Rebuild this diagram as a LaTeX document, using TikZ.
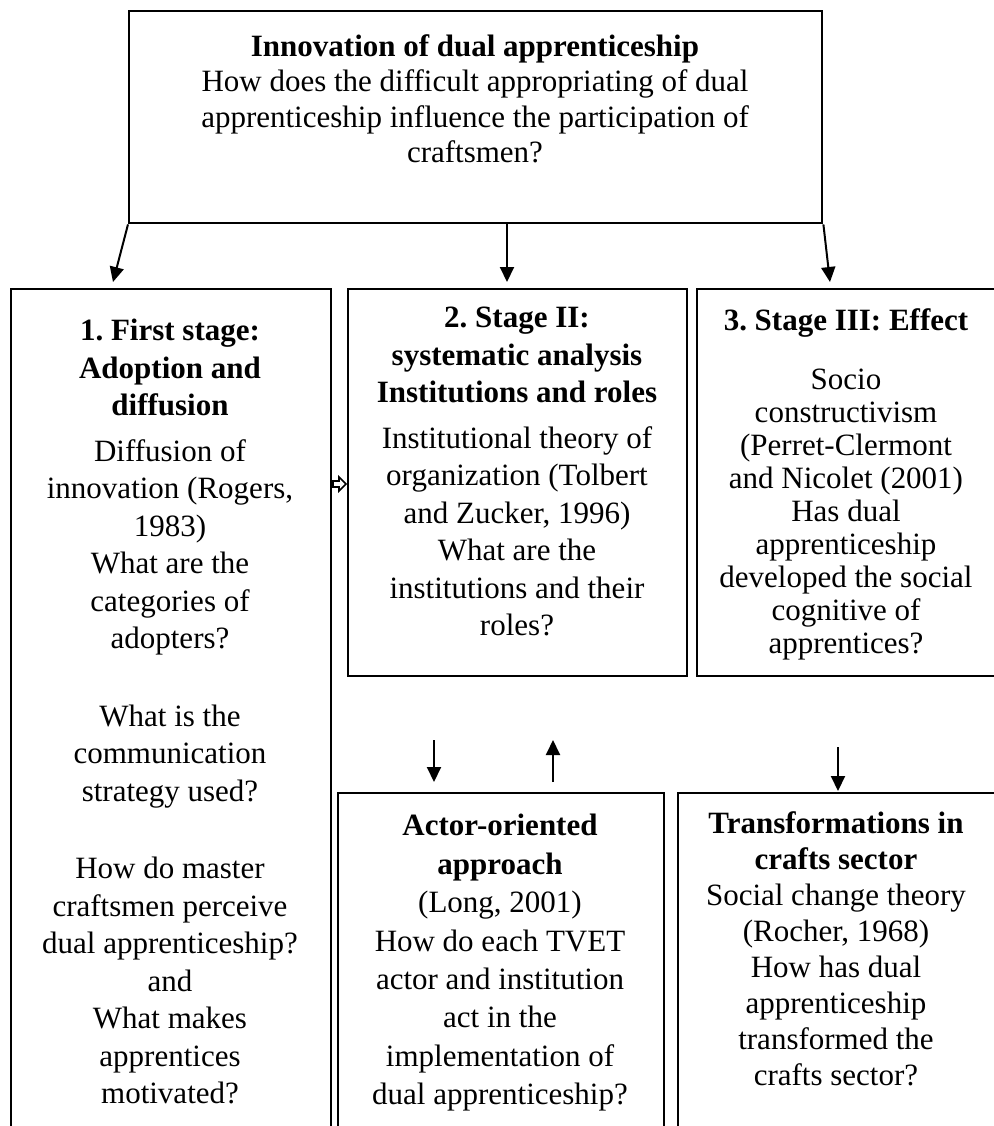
\documentclass[tikz,border=0pt]{standalone}
\usepackage{fontspec}
\setmainfont{Liberation Serif}
\usetikzlibrary{arrows.meta}
\frenchspacing
\begin{document}
\begin{tikzpicture}[x=0.5pt,y=-0.5pt,
  box/.style={draw, line width=1.2pt, inner sep=0pt, anchor=north west},
  txt/.style={align=center, font=\fontsize{15.5pt}{18.75pt}\selectfont, inner sep=0pt, anchor=north},
  arr/.style={line width=1pt, -{Triangle[width=7pt,length=7.5pt]}}]
\useasboundingbox (0,0) rectangle (994,1126);
\clip (0,0) rectangle (994,1126);

% frames
\node[box, minimum width=346.5pt, minimum height=106pt] (top) at (128,10) {};
\node[box, minimum width=160pt, minimum height=430pt] (s1) at (10,288) {};
\node[box, minimum width=169.5pt, minimum height=193.5pt] (s2) at (347,288) {};
\node[box, minimum width=152pt, minimum height=193.5pt] (s3) at (696,288) {};
\node[box, minimum width=163pt, minimum height=180pt] (actor) at (337,792) {};
\node[box, minimum width=162pt, minimum height=180pt] (trans) at (677,792) {};

% texts
\node[txt, font=\fontsize{15.5pt}{17.75pt}\selectfont] (topT) at (475,34) {\textbf{Innovation of dual apprenticeship}\\
  How does the difficult appropriating of dual\\
  apprenticeship influence the participation of\\
  craftsmen?};
\node[txt] (s1T) at (170,319) {\textbf{1. First stage:}\\ \textbf{Adoption and}\\ \textbf{diffusion}\\[4pt]
  Diffusion of\\ innovation (Rogers,\\ 1983)\\ What are the\\ categories of\\ adopters?\\[20pt]
  What is the\\ communication\\ strategy used?\\[20pt]
  How do master\\ craftsmen perceive\\ dual apprenticeship?\\ and\\ What makes\\ apprentices\\ motivated?};
\node[txt] (s2T) at (517,307) {\textbf{2. Stage II:}\\ \textbf{systematic analysis}\\ \textbf{Institutions and roles}\\[4pt]
  Institutional theory of\\ organization (Tolbert\\ and Zucker, 1996)\\ What are the\\ institutions and their\\ roles?};
\node[txt, font=\fontsize{15.5pt}{16.5pt}\selectfont] (s3T) at (846,308) {\textbf{3. Stage III: Effect}\\[13pt]
  Socio\\ constructivism\\ (Perret-Clermont\\ and Nicolet (2001)\\ Has dual\\ apprenticeship\\ developed the social\\ cognitive of\\ apprentices?};
\node[txt, font=\fontsize{15.5pt}{19.2pt}\selectfont] (actorT) at (500,814) {\textbf{Actor-oriented}\\ \textbf{approach}\\
  (Long, 2001)\\ How do each TVET\\ actor and institution\\ act in the\\ implementation of\\ dual apprenticeship?};
\node[txt, font=\fontsize{15.5pt}{18pt}\selectfont] (transT) at (836,811) {\textbf{Transformations in}\\ \textbf{crafts sector}\\
  Social change theory\\ (Rocher, 1968)\\ How has dual\\ apprenticeship\\ transformed the\\ crafts sector?};

% arrow ends
\coordinate (t1) at (113,282);
\coordinate (t2) at (507,282);
\coordinate (t3) at (830,282);
\coordinate (d1a) at (434,740);
\coordinate (d1b) at (434,782);
\coordinate (u1a) at (553,782);
\coordinate (u1b) at (553,740);
\coordinate (d3a) at (838,747);
\coordinate (d3b) at (838,791);

\draw[arr] (top.south west) -- (t1);
\draw[arr] (top.south -| t2) -- (t2);
\draw[arr] (top.south east) -- (t3);
\draw[arr] (d1a) -- (d1b);
\draw[arr] (u1a) -- (u1b);
\draw[arr] (d3a) -- (d3b);

% hollow block arrow between stage 1 and stage 2
\draw[line width=0.8pt, line join=miter] (333,481) -- (339,481) -- (339,477) -- (346,484)
  -- (339,491) -- (339,487) -- (333,487) -- cycle;
\end{tikzpicture}
\end{document}
